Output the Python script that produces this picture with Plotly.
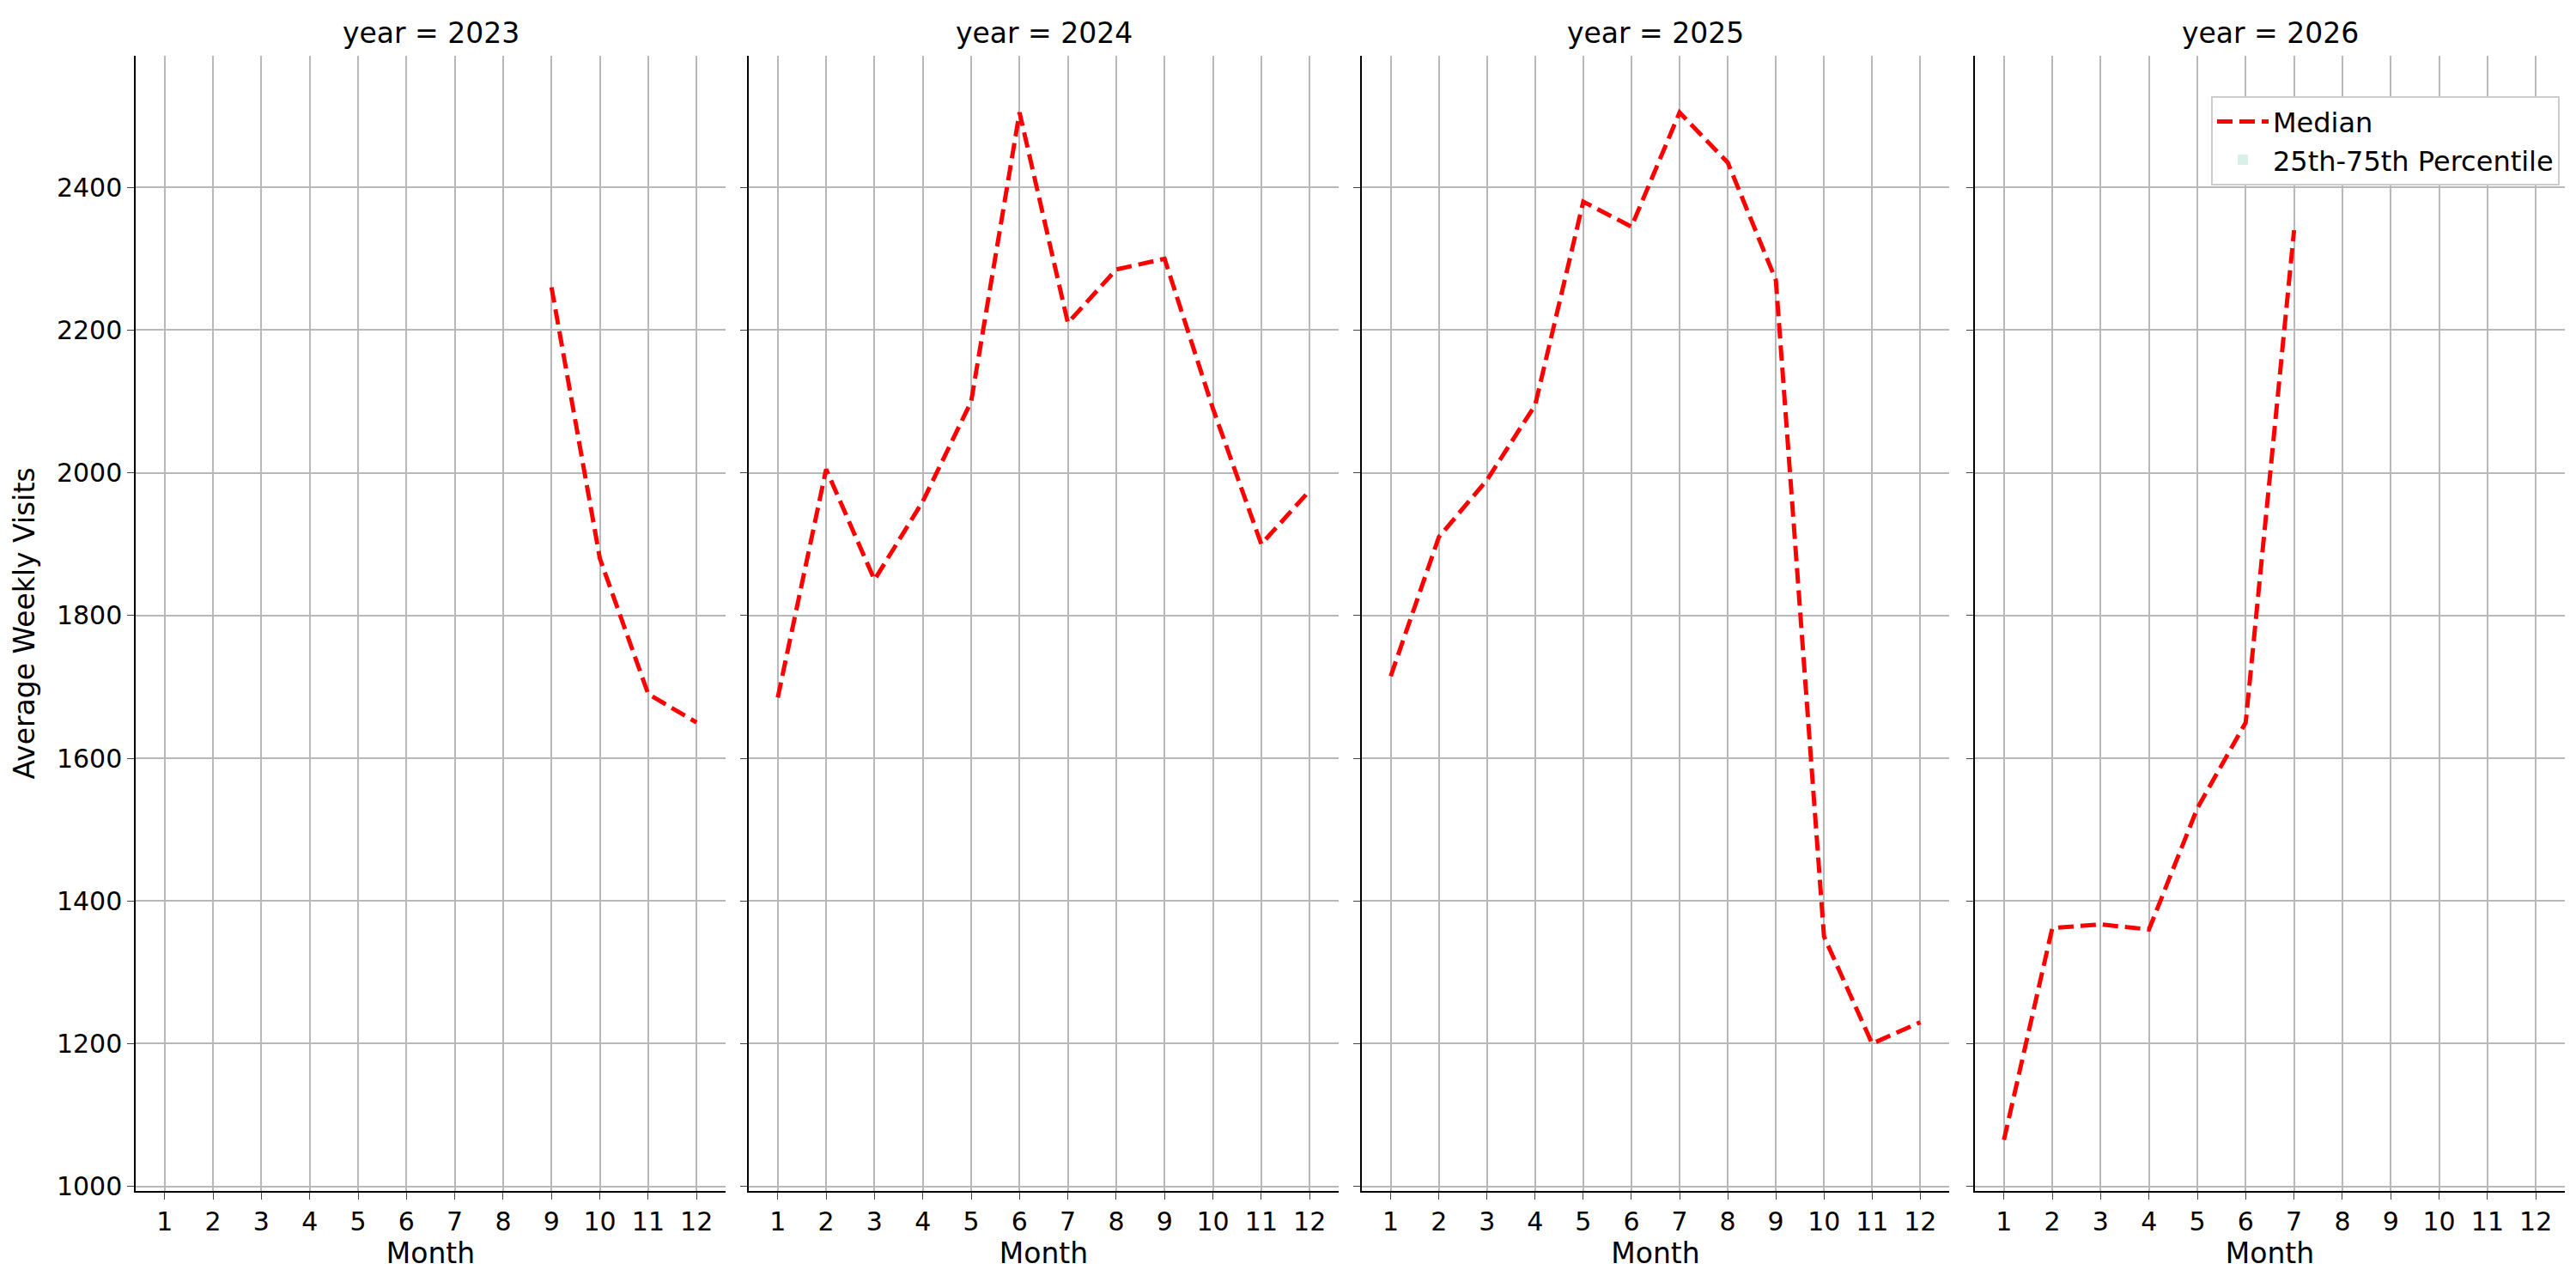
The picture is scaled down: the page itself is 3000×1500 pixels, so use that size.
import plotly.graph_objects as go

years = [2023, 2024, 2025, 2026]
months_2023 = [9, 10, 11, 12]
median_2023 = [2260, 1880, 1690, 1650]
months_2024 = list(range(1, 13))
median_2024 = [1685, 2005, 1850, 1960, 2100, 2505, 2210, 2285, 2300, 2090, 1900, 1975]
months_2025 = list(range(1, 13))
median_2025 = [1715, 1910, 1990, 2095, 2380, 2345, 2505, 2435, 2270, 1350, 1200, 1230]
months_2026 = [1, 2, 3, 4, 5, 6, 7]
median_2026 = [1065, 1362, 1367, 1360, 1530, 1650, 2340]
tick_months = list(range(1, 13))

data = [(months_2023, median_2023), (months_2024, median_2024),
        (months_2025, median_2025), (months_2026, median_2026)]
domains = [(0.050, 0.279), (0.288, 0.517), (0.526, 0.754), (0.764, 0.993)]

fig = go.Figure()
layout = dict(width=3000, height=1500, plot_bgcolor="white", paper_bgcolor="white",
              margin=dict(l=0, r=0, t=0, b=0),
              font=dict(family="DejaVu Sans", size=30, color="black"),
              showlegend=True,
              legend=dict(x=0.991, y=0.93, xanchor="right", yanchor="top",
                          bordercolor="#cccccc", borderwidth=2, bgcolor="white",
                          font=dict(size=32), itemwidth=60),
              annotations=[])
for i, (yr, (mx, my), dom) in enumerate(zip(years, data, domains)):
    n = "" if i == 0 else str(i + 1)
    fig.add_trace(go.Scatter(x=mx, y=my, mode="lines", name="Median",
                             line=dict(color="red", width=5, dash="18px,8px"),
                             showlegend=(i == 0), xaxis="x" + n, yaxis="y" + n))
    layout["xaxis" + n] = dict(domain=list(dom), anchor="y" + n, range=[0.4, 12.6],
                               tickvals=tick_months, showgrid=True, gridcolor="#b8b8b8",
                               gridwidth=1.5, showline=True, linecolor="black", linewidth=1.5,
                               ticks="outside", ticklen=8, tickfont=dict(size=30),
                               title=dict(text="Month", font=dict(size=33), standoff=5),
                               zeroline=False)
    layout["yaxis" + n] = dict(domain=[0.073, 0.962], anchor="x" + n, range=[993, 2585],
                               tickvals=[1000, 1200, 1400, 1600, 1800, 2000, 2200, 2400],
                               showticklabels=(i == 0), showgrid=True, gridcolor="#b8b8b8",
                               gridwidth=1.5, showline=True, linecolor="black", linewidth=1.5,
                               ticks="outside", ticklen=8, tickfont=dict(size=30),
                               zeroline=False)
    if i == 0:
        layout["yaxis"]["title"] = dict(text="Average Weekly Visits", font=dict(size=33))
    layout["annotations"].append(dict(text=f"year = {yr}", xref="paper", yref="paper",
                                      x=(dom[0] + dom[1]) / 2, y=0.965, xanchor="center",
                                      yanchor="bottom", showarrow=False, font=dict(size=33)))
fig.add_trace(go.Bar(x=[None], y=[None], name="25th-75th Percentile",
                     marker=dict(color="rgba(102,194,165,0.25)", line=dict(width=0)),
                     xaxis="x4", yaxis="y4"))
fig.update_layout(**layout)
fig.write_html("out.html")
